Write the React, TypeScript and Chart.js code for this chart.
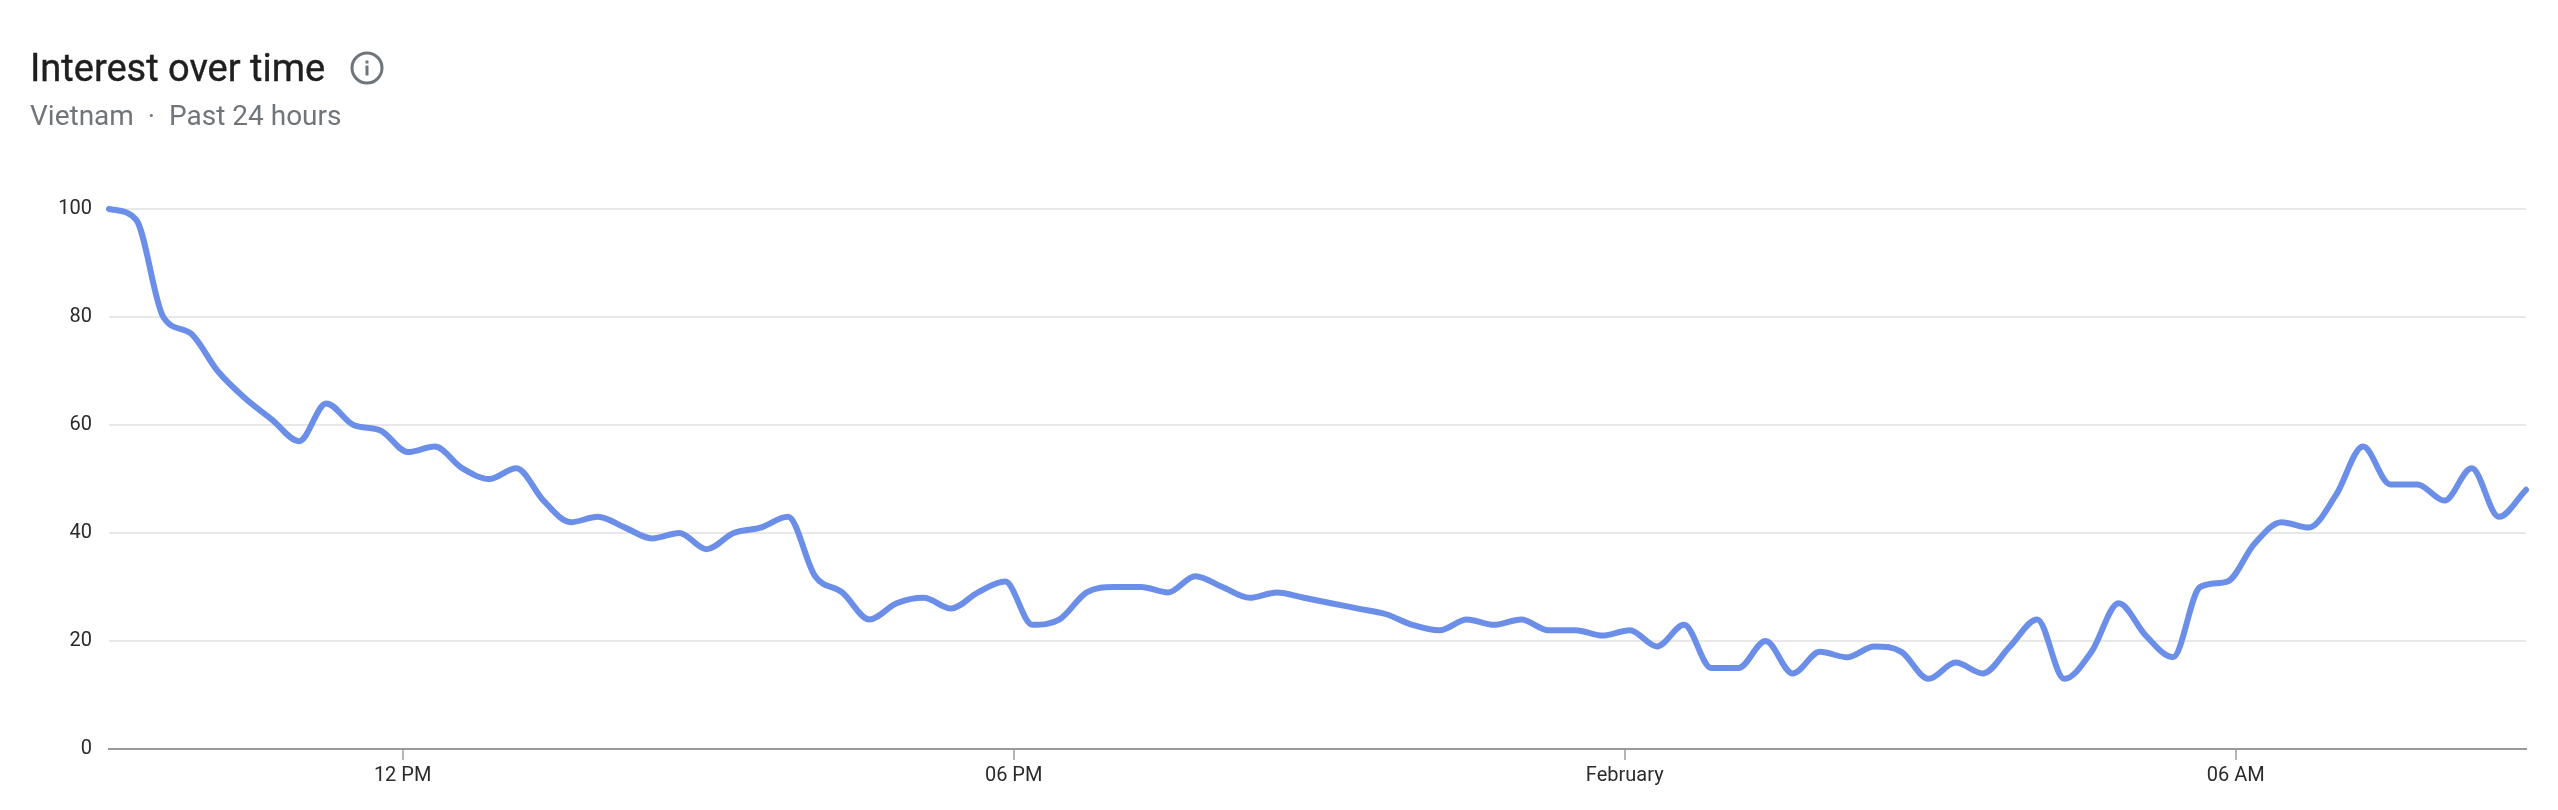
import React, { useEffect, useRef } from "react";
import { Chart, registerables } from "chart.js";

Chart.register(...registerables);

const TITLE = "Interest over time";
const SUBTITLE = "Vietnam  ·  Past 24 hours";
const STEP_MINUTES = 16;
const interest = [
  100, 98, 80, 77, 70, 65, 61, 57, 64, 60,
  59, 55, 56, 52, 50, 52, 46, 42, 43, 41,
  39, 40, 37, 40, 41, 43, 32, 29, 24, 27,
  28, 26, 29, 31, 23, 24, 29, 30, 30, 29,
  32, 30, 28, 29, 28, 27, 26, 25, 23, 22,
  24, 23, 24, 22, 22, 21, 22, 19, 23, 15,
  15, 20, 14, 18, 17, 19, 18, 13, 16, 14,
  19, 24, 13, 18, 27, 21, 17, 30, 31, 38,
  42, 41, 47, 56, 49, 49, 46, 52, 43, 48,
];
const xTickMinutes = [173, 533, 893, 1253];
const xTickLabels = ["12 PM", "06 PM", "February", "06 AM"];
const yTicks = [0, 20, 40, 60, 80, 100];

const FONT = "Roboto, sans-serif";

export default function App() {
  const ref = useRef<HTMLCanvasElement>(null);
  useEffect(() => {
    document.body.style.margin = "0";
    document.body.style.background = "#fff";
    const chart = new Chart(ref.current!, {
      type: "line",
      data: {
        datasets: [
          {
            data: interest.map((v, i) => ({ x: i * STEP_MINUTES, y: v })),
            borderColor: "#6b8fe8",
            borderWidth: 6,
            pointRadius: 0,
            cubicInterpolationMode: "monotone",
            borderCapStyle: "round",
            borderJoinStyle: "round",
            clip: false,
          },
        ],
      },
      options: {
        animation: false,
        responsive: false,
        layout: { padding: { top: 209, right: 32, left: 0, bottom: 0 } },
        plugins: { legend: { display: false }, tooltip: { enabled: false } },
        scales: {
          x: {
            type: "linear",
            min: 0,
            max: (interest.length - 1) * STEP_MINUTES,
            afterBuildTicks: (s: any) => {
              s.ticks = xTickMinutes.map((value) => ({ value }));
            },
            afterFit: (s: any) => {
              s.height = 61;
            },
            border: { display: true, color: "#9a9a9a", width: 2 },
            grid: { drawOnChartArea: false, drawTicks: true, tickLength: 11, color: "#b4b4b4", lineWidth: 2 },
            ticks: {
              autoSkip: false,
              maxRotation: 0,
              padding: 4,
              color: "#2b2b2b",
              font: { family: FONT, size: 20 },
              callback: (v: any) => xTickLabels[xTickMinutes.indexOf(Number(v))] ?? "",
            },
          },
          y: {
            min: 0,
            max: 100,
            afterBuildTicks: (s: any) => {
              s.ticks = yTicks.map((value) => ({ value }));
            },
            afterFit: (s: any) => {
              s.width = 109;
            },
            border: { display: false },
            grid: { color: "#e8e8e8", lineWidth: 2, drawTicks: false },
            ticks: {
              padding: 17,
              color: "#2b2b2b",
              font: { family: FONT, size: 20 },
            },
          },
        },
      },
    } as any);
    return () => chart.destroy();
  }, []);

  return (
    <div style={{ position: "relative", width: 2558, height: 810, overflow: "hidden", background: "#fff" }}>
      <canvas ref={ref} width={2558} height={810} style={{ position: "absolute", left: 0, top: 0, display: "block" }} />
      <div
        style={{
          position: "absolute",
          left: 30,
          top: 46,
          fontFamily: FONT,
          fontSize: 38,
          lineHeight: "44px",
          color: "#1f1f1f",
          whiteSpace: "pre",
          WebkitTextStroke: "0.4px #1f1f1f",
        }}
      >
        {TITLE}
      </div>
      <svg style={{ position: "absolute", left: 349, top: 50 }} width="36" height="36" viewBox="0 0 36 36">
        <circle cx="18" cy="18" r="15" fill="none" stroke="#70757a" strokeWidth="3" />
        <rect x="16.5" y="15.5" width="3" height="10" fill="#70757a" />
        <rect x="16.5" y="10.5" width="3" height="3" fill="#70757a" />
      </svg>
      <div
        style={{
          position: "absolute",
          left: 30,
          top: 98,
          fontFamily: FONT,
          fontSize: 28,
          lineHeight: "36px",
          color: "#70757a",
          whiteSpace: "pre",
        }}
      >
        {SUBTITLE}
      </div>
    </div>
  );
}
